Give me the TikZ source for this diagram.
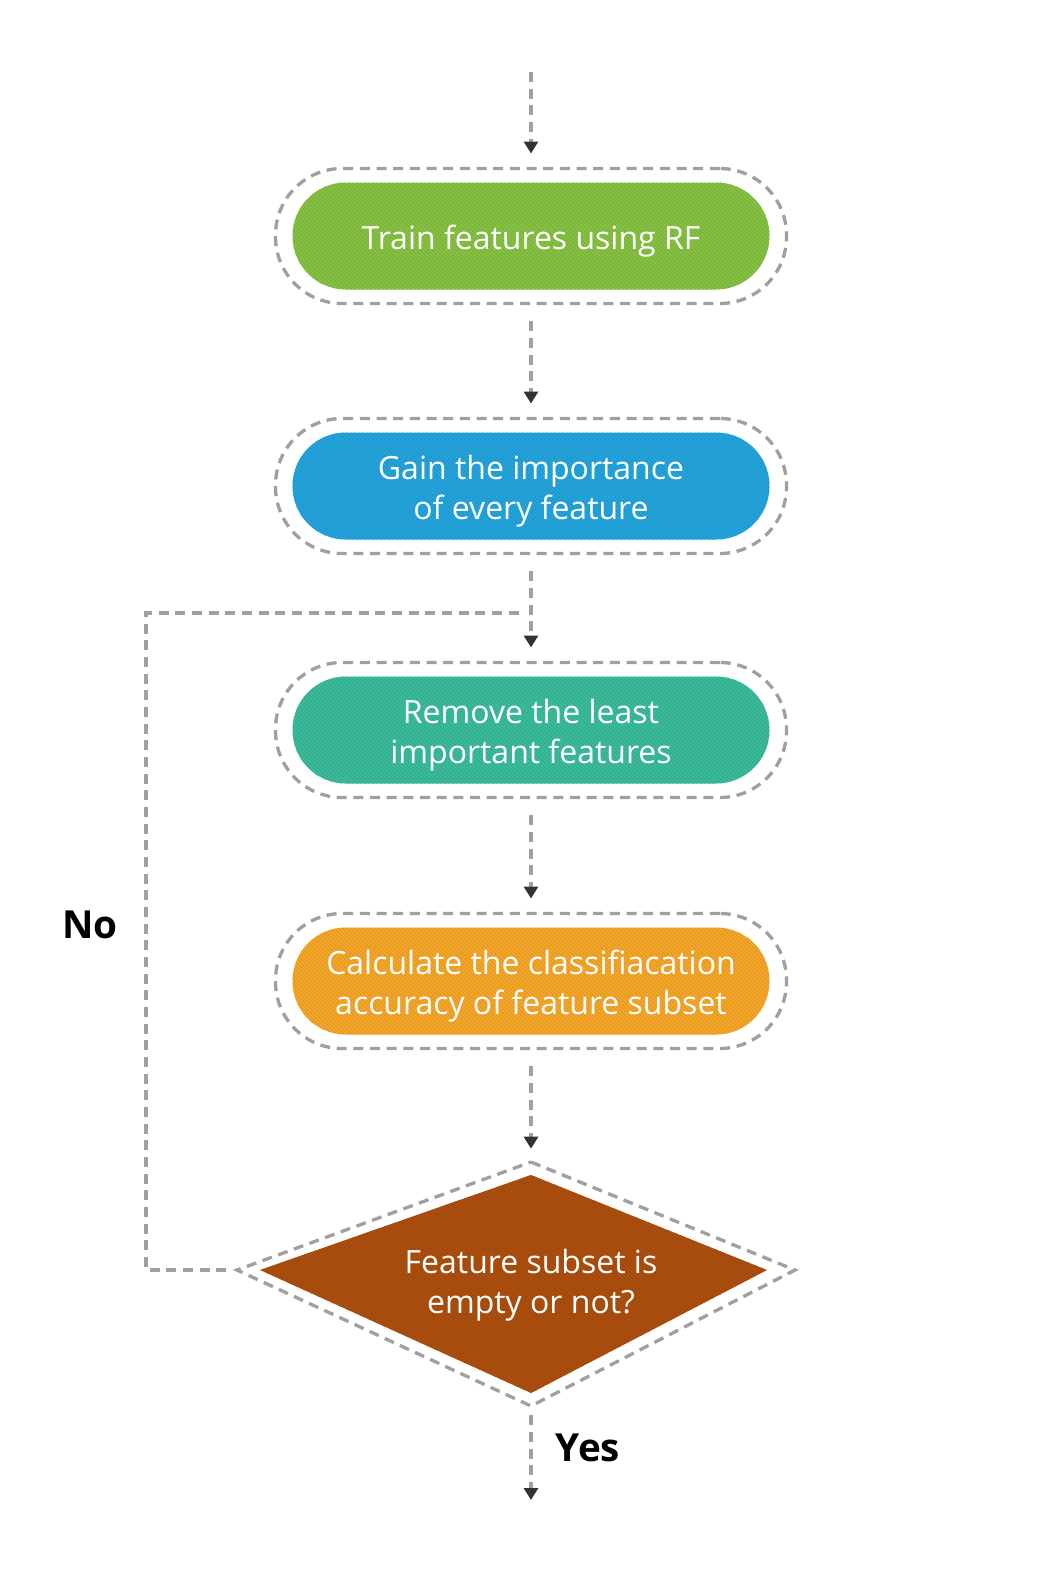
\documentclass[tikz,border=0pt]{standalone}
\usepackage{fontspec}
\setmainfont{Open Sans}
\usetikzlibrary{calc,arrows.meta,patterns}

\definecolor{rfgreen}{RGB}{134,193,66}
\definecolor{rfblue}{RGB}{36,164,220}
\definecolor{rfteal}{RGB}{58,187,155}
\definecolor{rforange}{RGB}{245,166,40}
\definecolor{rfbrown}{RGB}{172,78,14}
\definecolor{linegray}{RGB}{160,160,160}
\definecolor{tipgray}{RGB}{51,51,51}

\tikzset{
	ring/.style={draw=linegray,line width=2.5pt,dash pattern=on 7.5pt off 5pt,rounded corners=50pt,minimum width=383.25pt,minimum height=101.25pt,inner sep=0pt},
	pill/.style={rounded corners=40pt,minimum width=357.75pt,minimum height=80.25pt,inner sep=0pt,postaction={pattern=north west lines,pattern color=#1!88!black},fill=#1},
	boxtext/.style={text=white,align=center,inner sep=0pt,font=\fontsize{24}{30}\selectfont},
	link/.style={draw=linegray,line width=2.5pt,dash pattern=on 7.5pt off 5pt},
	flow/.style={link,-{Triangle[length=9pt,width=10.5pt,color=tipgray]},shorten <=12pt,shorten >=10pt},
	answer/.style={font=\fontsize{29}{32}\selectfont\bfseries,text=black}
}

\begin{document}
\begin{tikzpicture}[x=0.75pt,y=-0.75pt]
		\useasboundingbox (0,0) rectangle (1042,1578);
		\node[ring] (train) at (531,236) {};
		\node[pill=rfgreen] (trainfill) at (train) {};
		\node[boxtext] (traintext) at ($(train)+(0,5)$) {Train features using RF};
		\node[ring] (gain) at (531,486) {};
		\node[pill=rfblue] (gainfill) at (gain) {};
		\node[boxtext] (gaintext) at ($(gain)+(0,5)$) {Gain the importance\\of every feature};
		\node[ring] (remove) at (531,730) {};
		\node[pill=rfteal] (removefill) at (remove) {};
		\node[boxtext] (removetext) at ($(remove)+(0,5)$) {Remove the least\\important features};
		\node[ring] (calc) at (531,981) {};
		\node[pill=rforange] (calcfill) at (calc) {};
		\node[boxtext] (calctext) at ($(calc)+(0,5)$) {Calculate the classifiacation\\accuracy of feature subset};
		% decision diamond
		\coordinate (dtop) at (531,1162);
		\coordinate (dleft) at (237,1270);
		\coordinate (dbottom) at (531,1406);
		\coordinate (dright) at (795,1270);
		\fill[rfbrown,postaction={pattern=north west lines,pattern color=rfbrown!88!black}] (531,1175) -- (767,1270) -- (531,1393) -- (260,1270) -- cycle;
		\draw[link] (dtop) -- (dright) -- (dbottom) -- (dleft) -- cycle;
		\node[boxtext] (empty) at (531,1285) {Feature subset is\\empty or not?};
		\coordinate (start) at (531,72);
		\coordinate (finish) at (531,1500);
		\coordinate (back) at (146,613);
		\coordinate (join) at (521,613);
		\draw[flow,shorten <=0pt] (start) -- (train);
		\draw[flow] (train) -- (gain);
		\draw[flow] (gain) -- (remove);
		\draw[flow] (remove) -- (calc);
		\draw[flow] (calc) -- (dtop);
		\draw[flow,shorten >=0pt,shorten <=7pt] (dbottom) -- (finish);
		\draw[link,shorten <=8pt] (dleft) -| (back) -- (join);
		\node[answer] (no) at (90,925) {No};
		\node[answer] (yes) at (588,1448) {Yes};
	\end{tikzpicture}
\end{document}
